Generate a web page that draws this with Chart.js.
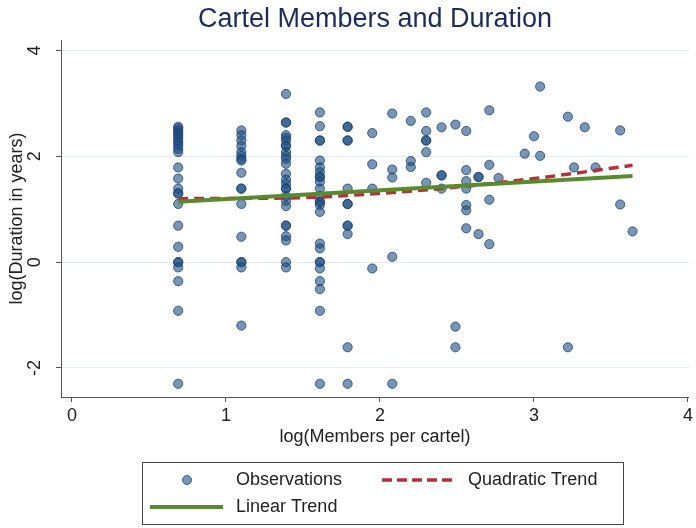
<!DOCTYPE html>
<html><head><meta charset="utf-8">
<script src="https://cdn.jsdelivr.net/npm/chart.js@4.4.0/dist/chart.umd.min.js"></script>
<style>html,body{margin:0;padding:0;background:#fff}canvas{display:block}</style>
</head><body>
<canvas id="c" width="696" height="528"></canvas>
<script>
const chartTitle = 'Cartel Members and Duration';
const xAxisTitle = 'log(Members per cartel)';
const yAxisTitle = 'log(Duration in years)';
const seriesNames = ['Observations', 'Quadratic Trend', 'Linear Trend'];
const xTicks = [0, 1, 2, 3, 4];
const yTicks = [-2, 0, 2, 4];

// Observations: log(members) and log(duration), read column by column
const obsX = [
  0.69,0.69,0.69,0.69,0.69,0.69,0.69,0.69,0.69,0.69,0.69,0.69,0.69,0.69,0.69,0.69,0.69,0.69,0.69,0.69,0.69,0.69,0.69,0.69,0.69,
  1.10,1.10,1.10,1.10,1.10,1.10,1.10,1.10,1.10,1.10,1.10,1.10,1.10,1.10,1.10,1.10,1.10,
  1.39,1.39,1.39,1.39,1.39,1.39,1.39,1.39,1.39,1.39,1.39,1.39,1.39,1.39,1.39,1.39,1.39,1.39,1.39,1.39,1.39,1.39,1.39,1.39,1.39,1.39,
  1.61,1.61,1.61,1.61,1.61,1.61,1.61,1.61,1.61,1.61,1.61,1.61,1.61,1.61,1.61,1.61,1.61,1.61,1.61,1.61,1.61,1.61,1.61,1.61,1.61,
  1.79,1.79,1.79,1.79,1.79,1.79,1.79,1.79,1.79,1.79,1.79,1.79,
  1.95,1.95,1.95,1.95,
  2.08,2.08,2.08,2.08,2.08,
  2.20,2.20,2.20,
  2.30,2.30,2.30,2.30,2.30,2.30,
  2.40,2.40,2.40,2.40,
  2.49,2.49,2.49,
  2.56,2.56,2.56,2.56,2.56,2.56,2.56,
  2.64,2.64,2.64,
  2.71,2.71,2.71,2.71,
  2.77,
  2.94,
  3.00,
  3.04,3.04,
  3.22,3.22,
  3.26,
  3.33,
  3.40,
  3.56,3.56,
  3.64
];
const obsY = [
  2.56,2.53,2.48,2.44,2.40,2.35,2.30,2.25,2.20,2.14,2.08,1.79,1.58,1.39,1.30,1.30,1.10,0.69,0.29,0,0,-0.10,-0.36,-0.92,-2.30,
  2.49,2.40,2.30,2.20,2.08,2.01,1.95,1.92,1.69,1.39,1.39,1.10,0.48,0,0,-0.10,-1.20,
  3.18,2.64,2.64,2.40,2.35,2.30,2.20,2.20,2.08,2.01,1.95,1.86,1.67,1.56,1.48,1.39,1.39,1.25,1.16,1.06,0.69,0.69,0.49,0.41,0,-0.10,
  2.83,2.57,2.30,2.30,1.92,1.79,1.70,1.61,1.61,1.52,1.39,1.25,1.14,1.14,1.08,0.95,0.35,0.26,0,0,-0.12,-0.36,-0.51,-0.92,-2.30,
  2.56,2.56,2.30,2.30,1.39,1.10,1.10,0.69,0.69,0.53,-1.61,-2.30,
  2.44,1.85,1.39,-0.12,
  2.81,1.75,1.60,0.10,-2.30,
  2.67,1.91,1.80,
  2.83,2.48,2.30,2.30,2.08,1.50,
  2.55,1.64,1.64,1.39,
  2.60,-1.22,-1.61,
  2.48,1.74,1.53,1.39,1.08,0.98,0.64,
  1.61,1.61,0.53,
  2.87,1.84,1.18,0.34,
  1.59,
  2.05,
  2.38,
  3.32,2.01,
  2.75,-1.61,
  1.79,
  2.55,
  1.79,
  2.49,1.09,
  0.58
];

// Fitted trends
const linX = [0.69, 3.64];
const linY = [1.14, 1.63];
const quadX = [0.69, 1.5, 2.0, 2.5, 3.0, 3.64];
const quadY = [1.20, 1.22, 1.30, 1.42, 1.58, 1.83];

const toPts = (xs, ys) => xs.map((x, i) => ({x: x, y: ys[i]}));

const C = {
  ptFill: 'rgba(30,78,130,0.6)',
  ptBorder: 'rgba(22,62,110,0.75)',
  green: '#5a8a2e',
  red: '#b3313b',
  text: '#222222',
  axis: '#555555',
  grid: '#e2eaee'
};
const FONT = "'Liberation Sans', Arial, sans-serif";

const legendPlugin = {
  id: 'boxLegend',
  afterDraw(chart) {
    const ctx = chart.ctx;
    const ds = chart.data.datasets;
    const L = 142, T = 462, W = 481, H = 62;
    ctx.save();
    ctx.strokeStyle = '#444';
    ctx.lineWidth = 1;
    ctx.strokeRect(L + 0.5, T + 0.5, W, H);
    ctx.font = '18px ' + FONT;
    ctx.fillStyle = C.text;
    ctx.textBaseline = 'middle';
    ctx.textAlign = 'left';
    const r1 = T + 18, r2 = T + 45;
    // Observations
    ctx.beginPath();
    ctx.arc(187, r1, 4.5, 0, Math.PI * 2);
    ctx.fillStyle = C.ptFill; ctx.fill();
    ctx.strokeStyle = C.ptBorder; ctx.lineWidth = 1; ctx.stroke();
    ctx.fillStyle = C.text;
    ctx.fillText(ds[0].label, 236, r1);
    // Quadratic
    ctx.beginPath();
    ctx.setLineDash([10, 5]);
    ctx.strokeStyle = C.red; ctx.lineWidth = 3.5;
    ctx.moveTo(382, r1); ctx.lineTo(456, r1); ctx.stroke();
    ctx.setLineDash([]);
    ctx.fillText(ds[1].label, 468, r1);
    // Linear
    ctx.beginPath();
    ctx.strokeStyle = C.green; ctx.lineWidth = 4;
    ctx.moveTo(150, r2); ctx.lineTo(223, r2); ctx.stroke();
    ctx.fillText(ds[2].label, 236, r2);
    ctx.restore();
  }
};

new Chart(document.getElementById('c'), {
  type: 'scatter',
  data: {
    datasets: [
      {
        label: seriesNames[0],
        data: toPts(obsX, obsY),
        backgroundColor: C.ptFill,
        borderColor: C.ptBorder,
        borderWidth: 1,
        pointRadius: 4.6,
        pointHoverRadius: 4.6,
        order: 3
      },
      {
        label: seriesNames[1],
        type: 'line',
        data: toPts(quadX, quadY),
        borderColor: C.red,
        borderWidth: 3.5,
        borderDash: [10, 6],
        pointRadius: 0,
        fill: false,
        cubicInterpolationMode: 'monotone',
        order: 2
      },
      {
        label: seriesNames[2],
        type: 'line',
        data: toPts(linX, linY),
        borderColor: C.green,
        borderWidth: 4,
        pointRadius: 0,
        fill: false,
        order: 1
      }
    ]
  },
  options: {
    responsive: false,
    animation: false,
    devicePixelRatio: 1,
    layout: {padding: {left: 0, right: 0, top: 0, bottom: 80}},
    plugins: {
      legend: {display: false},
      tooltip: {enabled: false},
      title: {
        display: true,
        text: chartTitle,
        color: '#1c2b5a',
        fullSize: false,
        font: {family: FONT, size: 27, weight: 'normal'},
        padding: {top: 3, bottom: 4.6}
      }
    },
    scales: {
      x: {
        type: 'linear',
        min: -0.071,
        max: 4.006,
        afterBuildTicks: s => { s.ticks = xTicks.map(v => ({value: v})); },
        afterFit: s => { s.height = 51; },
        grid: {drawOnChartArea: false, drawTicks: true, tickLength: 5, tickColor: C.axis},
        border: {display: true, color: C.axis, width: 1},
        ticks: {color: C.text, font: {family: FONT, size: 18}, padding: 3, maxRotation: 0},
        title: {display: true, text: xAxisTitle, color: C.text, font: {family: FONT, size: 18}, padding: {top: 0, bottom: 0}}
      },
      y: {
        type: 'linear',
        min: -2.55,
        max: 4.2,
        afterBuildTicks: s => { s.ticks = yTicks.map(v => ({value: v})); },
        afterFit: s => { s.width = 61; },
        grid: {drawOnChartArea: true, color: C.grid, lineWidth: 1, drawTicks: true, tickLength: 5, tickColor: C.axis},
        border: {display: true, color: C.axis, width: 1},
        ticks: {color: C.text, font: {family: FONT, size: 18}, padding: 13, minRotation: 90, maxRotation: 90, crossAlign: 'center'},
        title: {display: true, text: yAxisTitle, color: C.text, font: {family: FONT, size: 18}, padding: {top: 6, bottom: 0}}
      }
    }
  },
  plugins: [legendPlugin]
});
</script>
</body></html>
